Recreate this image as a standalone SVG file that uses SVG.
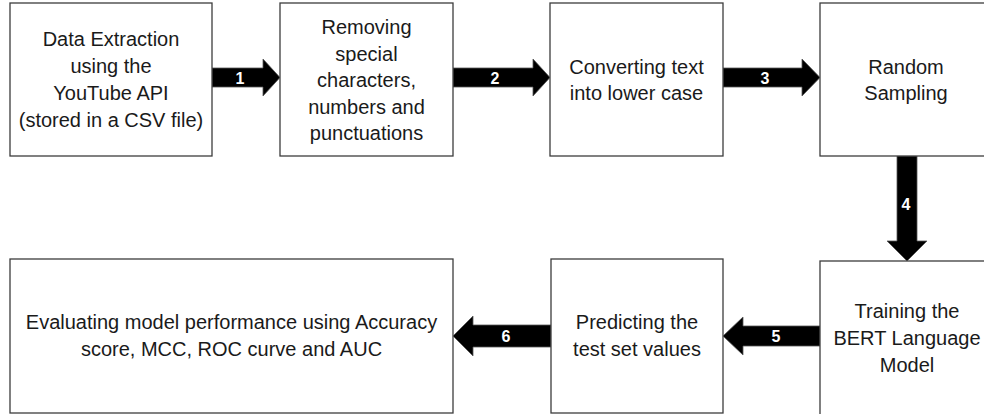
<svg xmlns="http://www.w3.org/2000/svg" width="984" height="414" viewBox="0 0 984 414">
<style>
.box{fill:#fff;stroke:#3c3c3c;stroke-width:1.3}
.t{font-family:"Liberation Sans",Arial,sans-serif;font-size:20px;fill:#1a1a1a;text-anchor:middle}
.arr{fill:#000;stroke:#555;stroke-width:0.8}
.lbl{font-family:"Liberation Sans",Arial,sans-serif;font-size:16px;font-weight:bold;fill:#fff;text-anchor:middle}
</style>
<rect width="984" height="414" fill="#fff"/>
<g id="connectors">
<path class="arr" d="M212,68 H263 V59 L280,77.5 L263,96 V87 H212 Z"/>
<text class="lbl" x="240" y="84">1</text>
<path class="arr" d="M453,68 H533 V59 L550,77.5 L533,96 V87 H453 Z"/>
<text class="lbl" x="495" y="84">2</text>
<path class="arr" d="M723,68 H802 V59 L820,77.5 L802,96 V87 H723 Z"/>
<text class="lbl" x="765" y="84">3</text>
<path class="arr" d="M897,156 V241 H887 L907,261 L927,241 H917 V156 Z"/>
<text class="lbl" x="906" y="210">4</text>
<path class="arr" d="M820,326 H743 V317 L723,336 L743,355 V346 H820 Z"/>
<text class="lbl" x="776" y="342">5</text>
<path class="arr" d="M551,325 H473 V316 L453,336 L473,356 V347 H551 Z"/>
<text class="lbl" x="506" y="342">6</text>
</g>
<g id="n1">
<rect class="box" x="10" y="3" width="202" height="153"/>
<text class="t" x="111" y="46">Data Extraction</text>
<text class="t" x="111" y="73">using the</text>
<text class="t" x="111" y="100">YouTube API</text>
<text class="t" x="111" y="127">(stored in a CSV file)</text>
</g>
<g id="n2">
<rect class="box" x="280" y="3" width="173" height="153"/>
<text class="t" x="366.5" y="34">Removing</text>
<text class="t" x="366.5" y="60.5">special</text>
<text class="t" x="366.5" y="87">characters,</text>
<text class="t" x="366.5" y="113.5">numbers and</text>
<text class="t" x="366.5" y="140">punctuations</text>
</g>
<g id="n3">
<rect class="box" x="550" y="3" width="173" height="153"/>
<text class="t" x="636.5" y="74">Converting text</text>
<text class="t" x="636.5" y="100">into lower case</text>
</g>
<g id="n4">
<rect class="box" x="820" y="3" width="172" height="153"/>
<text class="t" x="906" y="74">Random</text>
<text class="t" x="906" y="100">Sampling</text>
</g>
<g id="n5">
<rect class="box" x="820" y="261" width="172" height="156"/>
<text class="t" x="907" y="318">Training the</text>
<text class="t" x="907" y="345">BERT Language</text>
<text class="t" x="907" y="372">Model</text>
</g>
<g id="n6">
<rect class="box" x="551" y="259" width="172" height="154"/>
<text class="t" x="637" y="329">Predicting the</text>
<text class="t" x="637" y="356">test set values</text>
</g>
<g id="n7">
<rect class="box" x="10" y="259" width="443" height="154"/>
<text class="t" x="231.5" y="329">Evaluating model performance using Accuracy</text>
<text class="t" x="231.5" y="356">score, MCC, ROC curve and AUC</text>
</g>
</svg>
